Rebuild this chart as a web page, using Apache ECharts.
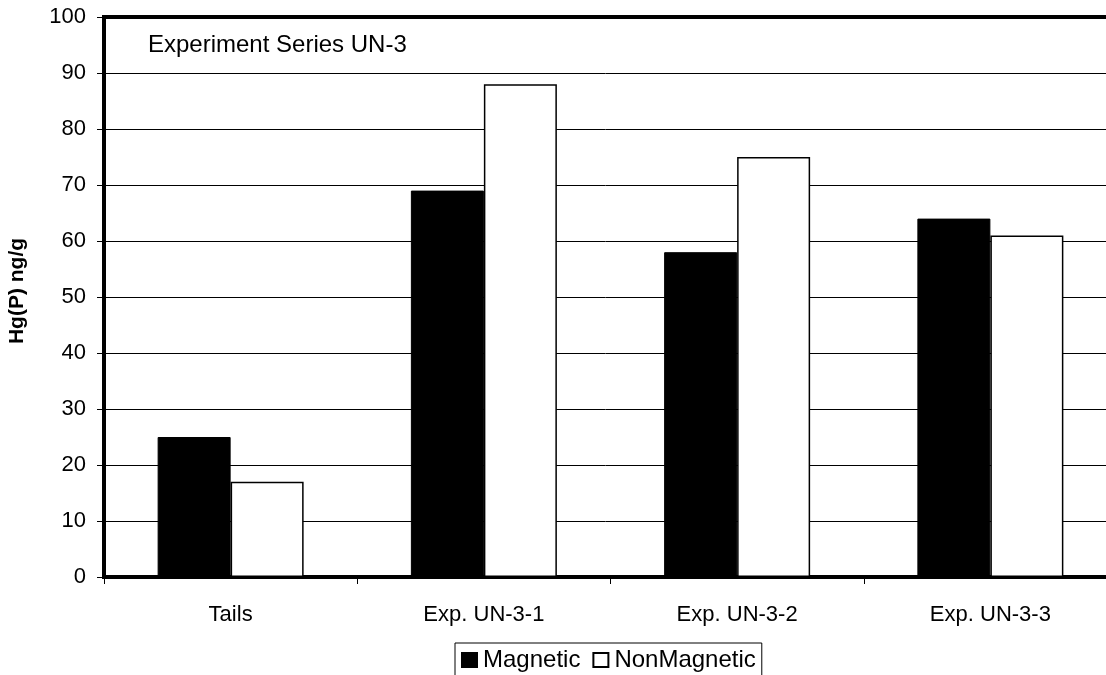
<!DOCTYPE html>
<html>
<head>
<meta charset="utf-8">
<script src="https://cdn.jsdelivr.net/npm/echarts@6/dist/echarts.min.js"></script>
<style>html,body{margin:0;padding:0;background:#fff}#c{width:1106px;height:675px}</style>
</head>
<body>
<div id="c"></div>
<script>
const categories = ['Tails', 'Exp. UN-3-1', 'Exp. UN-3-2', 'Exp. UN-3-3'];
const magnetic = [25, 69, 58, 64];
const nonMagnetic = [17, 88, 75, 61];
const yTicks = [0, 10, 20, 30, 40, 50, 60, 70, 80, 90, 100];

const FONT = '"Liberation Sans", Arial, sans-serif';
const chart = echarts.init(document.getElementById('c'), null, {renderer: 'canvas'});
chart.setOption({
  animation: false,
  backgroundColor: '#fff',
  textStyle: {fontFamily: FONT, color: '#000'},
  title: {
    text: 'Experiment Series UN-3',
    left: 148, top: 33, padding: 0,
    textStyle: {fontFamily: FONT, fontSize: 24, fontWeight: 'normal', color: '#000'}
  },
  grid: {
    left: 104, top: 17, width: 1013, height: 560,
    outerBoundsMode: 'none', containLabel: false,
    show: true, borderColor: '#000', borderWidth: 4, backgroundColor: 'transparent'
  },
  legend: {
    top: 643, left: 455,
    icon: 'rect',
    itemWidth: 15, itemHeight: 14, itemGap: 12,
    borderColor: '#000', borderWidth: 1, padding: [5, 6, 8, 6],
    textStyle: {fontFamily: FONT, fontSize: 24, color: '#000', padding: [0, 0, 0, 1]},
    data: ['Magnetic', 'NonMagnetic']
  },
  xAxis: {
    type: 'category',
    data: categories,
    axisLine: {lineStyle: {color: '#000', width: 3}},
    axisTick: {show: true, length: 7, lineStyle: {color: '#000', width: 1}},
    axisLabel: {fontFamily: FONT, fontSize: 22, color: '#000', margin: 27}
  },
  yAxis: {
    type: 'value', min: yTicks[0], max: yTicks[yTicks.length - 1], interval: 10,
    name: 'Hg(P) ng/g', nameLocation: 'middle', nameGap: 76,
    nameTextStyle: {fontFamily: FONT, fontSize: 21, fontWeight: 'bold', color: '#000', padding: [0, 0, 0, 12]},
    axisLine: {show: true, lineStyle: {color: '#000', width: 4}},
    axisTick: {show: true, length: 7, lineStyle: {color: '#000', width: 1}},
    axisLabel: {fontFamily: FONT, fontSize: 22, color: '#000', margin: 18},
    splitLine: {show: true, lineStyle: {color: '#000', width: 1}}
  },
  series: [
    {
      name: 'Magnetic', type: 'bar', data: magnetic,
      barWidth: 73, barGap: '0%',
      itemStyle: {color: '#000', borderColor: '#000', borderWidth: 1}
    },
    {
      name: 'NonMagnetic', type: 'bar', data: nonMagnetic,
      barWidth: 73, barGap: '0%',
      itemStyle: {color: '#fff', borderColor: '#000', borderWidth: 1.5}
    }
  ]
});
</script>
</body>
</html>
